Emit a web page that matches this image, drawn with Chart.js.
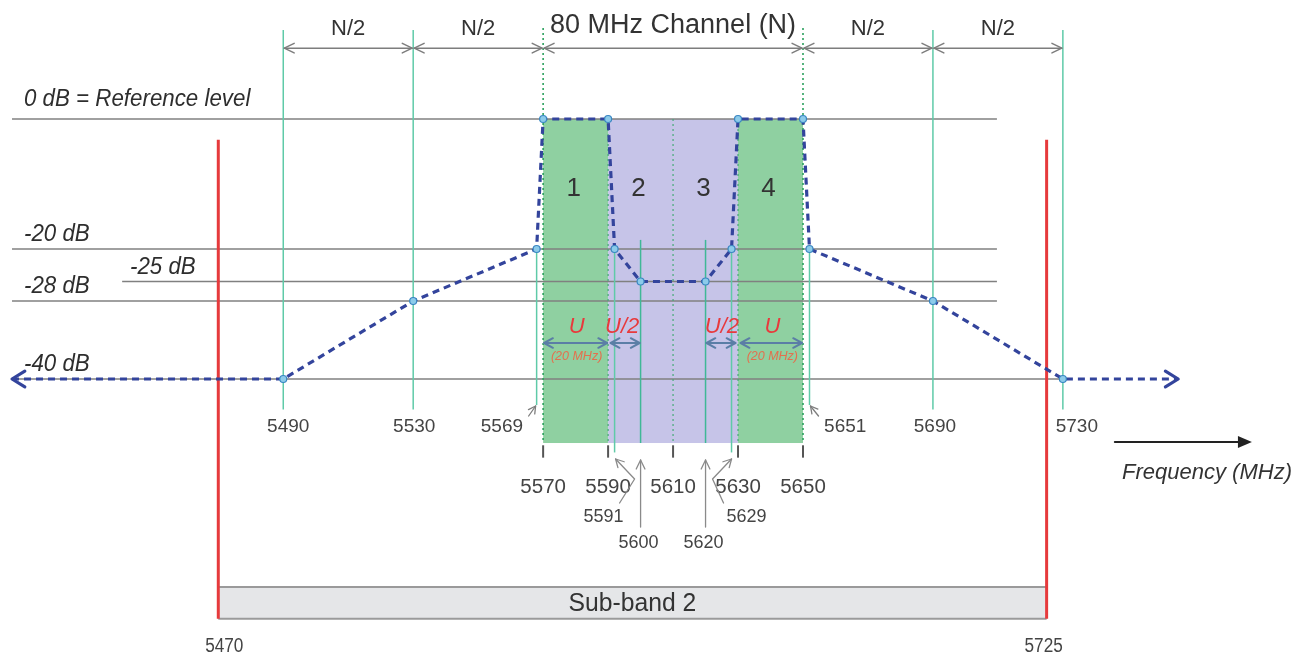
<!DOCTYPE html>
<html>
<head>
<meta charset="utf-8">
<script src="https://cdn.jsdelivr.net/npm/chart.js@4.4.1/dist/chart.umd.min.js"></script>
<style>
html,body{margin:0;padding:0;background:#fff;}
canvas{display:block;}
</style>
</head>
<body>
<canvas id="c" width="1300" height="654"></canvas>
<script>
// ---------- data ----------
const maskFreq = [5406.5, 5490, 5530, 5568, 5570, 5590, 5592, 5600, 5620, 5628, 5630, 5650, 5652, 5690, 5730, 5765.5];
const maskDb   = [-40, -40, -28, -20, 0, 0, -20, -25, -25, -20, 0, 0, -20, -28, -40, -40];
const levelDb = [0, -20, -25, -28, -40];
const levelLabels = ['0 dB = Reference level', '-20 dB', '-25 dB', '-28 dB', '-40 dB'];
const outerGuides = [5490, 5530, 5690, 5730];
const channelEdges = [5570, 5650];
const subChannelStart = [5570, 5590, 5610, 5630];
const subChannelEnd   = [5590, 5610, 5630, 5650];
const subChannelNames = ['1', '2', '3', '4'];
const bandEdges = [5470, 5725];
const bandName = 'Sub-band 2';
const tickFreq = [5570, 5590, 5610, 5630, 5650];
const tickLabels = ['5570', '5590', '5610', '5630', '5650'];
const upperLabelFreq = [5490, 5530, 5569, 5651, 5690, 5730];
const upperLabels = ['5490', '5530', '5569', '5651', '5690', '5730'];
const spanStart = [5490, 5530, 5570, 5650, 5690];
const spanEnd   = [5530, 5570, 5650, 5690, 5730];
const spanLabels = ['N/2', 'N/2', '80 MHz Channel (N)', 'N/2', 'N/2'];
const innerEdgeFreq = [5592, 5628];
const innerEdgeLabels = ['5591', '5629'];
const innerLevelFreq = [5600, 5620];
const innerLevelLabels = ['5600', '5620'];
const uSpans = [[5570, 5590], [5590.5, 5600], [5620, 5629.5], [5630.5, 5650]];
const uLabels = ['U', 'U/2', 'U/2', 'U'];

const FONT = '"Liberation Sans", Arial, sans-serif';

function line(ctx, x1, y1, x2, y2) { ctx.beginPath(); ctx.moveTo(x1, y1); ctx.lineTo(x2, y2); ctx.stroke(); }
function chevron(ctx, x, y, dir, len, spread) {
  ctx.beginPath();
  ctx.moveTo(x - len * Math.cos(dir - spread), y - len * Math.sin(dir - spread));
  ctx.lineTo(x, y);
  ctx.lineTo(x - len * Math.cos(dir + spread), y - len * Math.sin(dir + spread));
  ctx.stroke();
}
function text(ctx, s, x, y, font, color, align, sx) {
  ctx.save();
  ctx.font = font; ctx.fillStyle = color; ctx.textAlign = align || 'center'; ctx.textBaseline = 'middle';
  ctx.translate(x, y);
  if (sx) ctx.scale(sx, 1);
  ctx.fillText(s, 0, 0);
  ctx.restore();
}

const diagram = {
  id: 'diagram',
  beforeDraw(chart) {
    const ctx = chart.ctx;
    ctx.save(); ctx.fillStyle = '#fff'; ctx.fillRect(0, 0, chart.width, chart.height); ctx.restore();
  },
  beforeDatasetsDraw(chart) {
    const ctx = chart.ctx, xs = chart.scales.x, ys = chart.scales.y;
    const X = f => xs.getPixelForValue(f), Y = d => ys.getPixelForValue(d);
    const boxBottom = -49.85;
    ctx.save();

    // sub-band box
    ctx.fillStyle = '#e5e6e8';
    ctx.fillRect(X(bandEdges[0]), Y(-72), X(bandEdges[1]) - X(bandEdges[0]), Y(-76.9) - Y(-72));
    ctx.strokeStyle = '#9a9a9a'; ctx.lineWidth = 2;
    line(ctx, X(bandEdges[0]), Y(-72), X(bandEdges[1]), Y(-72));
    line(ctx, X(bandEdges[0]), Y(-76.9), X(bandEdges[1]), Y(-76.9));

    // sub-channel fills
    for (let i = 0; i < subChannelStart.length; i++) {
      const green = (i === 0 || i === 3);
      ctx.fillStyle = green ? '#8fd0a1' : '#c6c4e8';
      ctx.fillRect(X(subChannelStart[i]), Y(0), X(subChannelEnd[i]) - X(subChannelStart[i]), Y(boxBottom) - Y(0));
    }

    // horizontal reference levels
    ctx.strokeStyle = '#808080'; ctx.lineWidth = 1.5;
    levelDb.forEach((d, i) => {
      const x1 = (d === -25) ? X(5440.4) : X(5406.5);
      const x2 = (d === -40) ? X(5730) : X(5709.7);
      line(ctx, x1, Y(d), x2, Y(d));
    });

    // outer teal guides
    ctx.strokeStyle = '#5fcaa8'; ctx.lineWidth = 1.5;
    outerGuides.forEach(f => line(ctx, X(f), Y(13.7), X(f), Y(-44.7)));
    [5568, 5652].forEach(f => line(ctx, X(f), Y(-20), X(f), Y(-44.0)));
    innerEdgeFreq.forEach(f => line(ctx, X(f), Y(-20), X(f), Y(-51.3)));
    ctx.strokeStyle = '#3fb896';
    innerLevelFreq.forEach(f => line(ctx, X(f), Y(-18.6), X(f), Y(boxBottom)));

    // dotted green channel edges
    ctx.strokeStyle = '#2ca15e'; ctx.lineWidth = 1.6; ctx.setLineDash([2, 3]);
    channelEdges.forEach(f => line(ctx, X(f), Y(14.0), X(f), Y(boxBottom)));
    ctx.strokeStyle = '#44a877'; ctx.lineWidth = 1.2;
    [5590, 5610, 5630].forEach(f => line(ctx, X(f), Y(0), X(f), Y(boxBottom)));
    ctx.setLineDash([]);

    // ticks below channel
    ctx.strokeStyle = '#555'; ctx.lineWidth = 2;
    tickFreq.forEach(f => line(ctx, X(f), Y(-50.2), X(f), Y(-52.1)));

    // red band edges
    ctx.strokeStyle = '#e63a3c'; ctx.lineWidth = 3;
    bandEdges.forEach(f => line(ctx, X(f), Y(-3.2), X(f), Y(-76.9)));

    ctx.restore();
  },
  afterDatasetsDraw(chart) {
    const ctx = chart.ctx, xs = chart.scales.x, ys = chart.scales.y;
    const X = f => xs.getPixelForValue(f), Y = d => ys.getPixelForValue(d);
    ctx.save();
    ctx.lineCap = 'round'; ctx.lineJoin = 'round';

    // mask end arrows
    ctx.strokeStyle = '#33449c'; ctx.lineWidth = 3.2;
    chevron(ctx, X(maskFreq[0]), Y(maskDb[0]), Math.PI, 15, 0.55);
    chevron(ctx, X(maskFreq[maskFreq.length - 1]), Y(maskDb[maskDb.length - 1]), 0, 15, 0.55);

    // top span arrows
    ctx.strokeStyle = '#7d7d7d'; ctx.lineWidth = 1.5;
    const yArr = Y(10.9);
    for (let i = 0; i < spanStart.length; i++) {
      const a = X(spanStart[i]), b = X(spanEnd[i]);
      line(ctx, a + 1, yArr, b - 1, yArr);
      chevron(ctx, a + 1, yArr, Math.PI, 11, 0.45);
      chevron(ctx, b - 1, yArr, 0, 11, 0.45);
      const big = spanLabels[i].length > 4;
      text(ctx, spanLabels[i], (a + b) / 2, big ? 26 : 29, (big ? '27px ' : '22px ') + FONT, '#333');
    }

    // level labels
    levelDb.forEach((d, i) => {
      const x = (d === -25) ? 130 : 24;
      const dy = (d === 0) ? -19 : -14;
      text(ctx, levelLabels[i], x, Y(d) + dy, 'italic 23px ' + FONT, '#2e2e2e', 'left', 0.97);
    });

    // subchannel numbers
    for (let i = 0; i < subChannelStart.length; i++) {
      text(ctx, subChannelNames[i], (X(subChannelStart[i]) + X(subChannelEnd[i])) / 2 - 2, 189, '26px ' + FONT, '#333');
    }

    // U arrows
    ctx.strokeStyle = '#5b7ea6'; ctx.lineWidth = 2;
    const yU = 343;
    uSpans.forEach((s, i) => {
      const a = X(s[0]), b = X(s[1]);
      line(ctx, a + 1, yU, b - 1, yU);
      chevron(ctx, a + 1, yU, Math.PI, 10, 0.5);
      chevron(ctx, b - 1, yU, 0, 10, 0.5);
      const c = (a + b) / 2;
      const lx = (i === 1) ? c - 3 : c + 1;
      text(ctx, uLabels[i], lx, 327, 'italic 22px ' + FONT, '#e8393c');
      if (uLabels[i] === 'U') text(ctx, '(20 MHz)', c + 1, 357, 'italic 12.5px ' + FONT, '#e3704e');
    });

    // upper frequency labels
    const upOff = [5, 1, -38, 39, 2, 14];
    upperLabelFreq.forEach((f, i) => {
      text(ctx, upperLabels[i], X(f) + upOff[i], 427, '19px ' + FONT, '#444');
    });
    ctx.strokeStyle = '#7d7d7d'; ctx.lineWidth = 1.3;
    const a1 = X(5568);
    line(ctx, a1 - 8, 416, a1 - 1, 406); chevron(ctx, a1 - 1, 406, Math.atan2(-10, 7), 8, 0.5);
    const a2 = X(5652);
    line(ctx, a2 + 9, 416, a2 + 1, 406); chevron(ctx, a2 + 1, 406, Math.atan2(-10, -8), 8, 0.5);

    // channel tick labels
    tickFreq.forEach((f, i) => text(ctx, tickLabels[i], X(f), 487, '20.5px ' + FONT, '#444'));

    // inner edge labels with bent arrows
    ctx.strokeStyle = '#8a8a8a'; ctx.lineWidth = 1.3;
    {
      const x = X(innerEdgeFreq[0]);
      ctx.beginPath(); ctx.moveTo(x + 5, 503); ctx.lineTo(x + 20, 479); ctx.lineTo(x + 1, 459); ctx.stroke();
      chevron(ctx, x + 1, 459, Math.atan2(-20, -19), 9, 0.5);
      text(ctx, innerEdgeLabels[0], x - 11, 517, '18px ' + FONT, '#444');
      const x2 = X(innerEdgeFreq[1]);
      ctx.beginPath(); ctx.moveTo(x2 - 8, 503); ctx.lineTo(x2 - 19, 479); ctx.lineTo(x2, 459); ctx.stroke();
      chevron(ctx, x2, 459, Math.atan2(-20, 19), 9, 0.5);
      text(ctx, innerEdgeLabels[1], x2 + 15, 517, '18px ' + FONT, '#444');
    }
    innerLevelFreq.forEach((f, i) => {
      const x = X(f);
      line(ctx, x, 527, x, 460);
      chevron(ctx, x, 460, -Math.PI / 2, 10, 0.45);
      text(ctx, innerLevelLabels[i], x - 2, 543, '18px ' + FONT, '#444');
    });

    // frequency axis arrow
    ctx.strokeStyle = '#222'; ctx.fillStyle = '#222'; ctx.lineWidth = 2;
    const fx1 = X(5746), fx2 = X(5788.2), fy = 442;
    line(ctx, fx1, fy, fx2 - 10, fy);
    ctx.beginPath(); ctx.moveTo(fx2, fy); ctx.lineTo(fx2 - 14, fy - 6); ctx.lineTo(fx2 - 14, fy + 6); ctx.closePath(); ctx.fill();
    text(ctx, 'Frequency (MHz)', 1207, 473, 'italic 22px ' + FONT, '#333');

    // band name and edges
    text(ctx, bandName, (X(bandEdges[0]) + X(bandEdges[1])) / 2, 604, '26px ' + FONT, '#333', 'center', 0.95);
    text(ctx, String(bandEdges[0]), X(bandEdges[0]) + 6, 646, '20px ' + FONT, '#444', 'center', 0.86);
    text(ctx, String(bandEdges[1]), X(bandEdges[1]) - 3, 646, '20px ' + FONT, '#444', 'center', 0.86);

    ctx.restore();
  }
};

const points = maskFreq.map((f, i) => ({ x: f, y: maskDb[i] }));
const radii = maskFreq.map((f, i) => (i === 0 || i === maskFreq.length - 1) ? 0 : 3.5);

new Chart(document.getElementById('c'), {
  type: 'scatter',
  data: {
    datasets: [{
      data: points,
      showLine: true,
      tension: 0,
      borderColor: '#33449c',
      borderWidth: 3.2,
      borderDash: [7, 5],
      pointRadius: radii,
      pointHoverRadius: radii,
      pointBackgroundColor: '#8ccbea',
      pointBorderColor: '#3a86c2',
      pointBorderWidth: 1.2,
      clip: false
    }]
  },
  options: {
    responsive: false,
    animation: false,
    devicePixelRatio: 1,
    layout: { padding: 0 },
    plugins: { legend: { display: false }, tooltip: { enabled: false } },
    events: [],
    scales: {
      x: { type: 'linear', display: false, min: 5402.8, max: 5803.0 },
      y: { type: 'linear', display: false, min: -82.31, max: 18.31 }
    }
  },
  plugins: [diagram]
});
</script>
</body>
</html>
